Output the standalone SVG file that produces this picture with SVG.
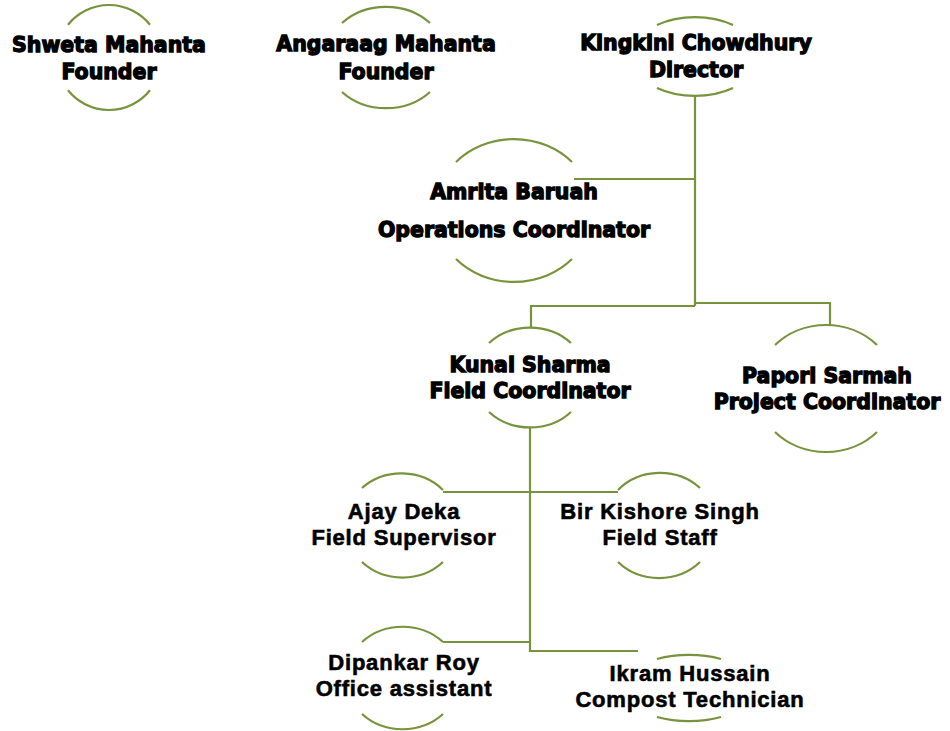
<svg xmlns="http://www.w3.org/2000/svg" width="950" height="731" viewBox="0 0 950 731">
<style>
.arc{fill:none;stroke:#77933C;stroke-width:2.2}
.con{fill:none;stroke:#77933C;stroke-width:2.2}
text{font-weight:bold;fill:#000;text-anchor:middle}
.h{font-family:"DejaVu Sans","Liberation Sans",sans-serif;font-size:20.5px;stroke:#000;stroke-width:1.3}
.n{font-family:"Liberation Sans",Arial,sans-serif;font-size:22px;letter-spacing:0.8px;stroke:#000;stroke-width:0.6}
</style>
<rect width="950" height="731" fill="#fff"/>
<g id="connectors">
<path class="con" d="M695,95 V306"/>
<path class="con" d="M574,179 H695"/>
<path class="con" d="M695,306 H531 V328"/>
<path class="con" d="M695,303 H830 V325"/>
<path class="con" d="M530,427 V651 H638"/>
<path class="con" d="M443,492 H618"/>
<path class="con" d="M443,642 H530"/>
</g>
<g id="shweta">
<path class="arc" d="M68,24.7 A52.5,52.5 0 0 1 150,24.7"/>
<path class="arc" d="M68,90.3 A52.5,52.5 0 0 0 150,90.3"/>
<text class="h" x="109" y="52">Shweta Mahanta</text>
<text class="h" x="109" y="79">Founder</text>
</g>
<g id="angaraag">
<path class="arc" d="M342,23 A60,50.5 0 0 1 430,23"/>
<path class="arc" d="M342,92 A60,50.5 0 0 0 430,92"/>
<text class="h" x="386" y="51">Angaraag Mahanta</text>
<text class="h" x="386" y="79">Founder</text>
</g>
<g id="kingkini">
<path class="arc" d="M657,25 A63,39 0 0 1 733,25"/>
<path class="arc" d="M657,88 A63,39 0 0 0 733,88"/>
<text class="h" x="696" y="50">Kingkini Chowdhury</text>
<text class="h" x="696" y="77">Director</text>
</g>
<g id="amrita">
<path class="arc" d="M456,162 A79,71.5 0 0 1 572,162"/>
<path class="arc" d="M456,259 A79,71.5 0 0 0 572,259"/>
<text class="h" x="514" y="199">Amrita Baruah</text>
<text class="h" x="514" y="237">Operations Coordinator</text>
</g>
<g id="kunal">
<path class="arc" d="M489,343 A56.5,49.5 0 0 1 571,343"/>
<path class="arc" d="M489,412 A56.5,49.5 0 0 0 571,412"/>
<text class="h" x="530" y="372">Kunal Sharma</text>
<text class="h" x="530" y="398">Field Coordinator</text>
</g>
<g id="papori">
<path class="arc" d="M775,345 A70,63.5 0 0 1 877,345"/>
<path class="arc" d="M775,432 A70,63.5 0 0 0 877,432"/>
<text class="h" x="827" y="383">Papori Sarmah</text>
<text class="h" x="827" y="409">Project Coordinator</text>
</g>
<g id="ajay">
<path class="arc" d="M362,488 A57,52.5 0 0 1 443,490"/>
<path class="arc" d="M362,562 A57,52.5 0 0 0 443,562"/>
<text class="n" x="404" y="519">Ajay Deka</text>
<text class="n" x="404" y="545">Field Supervisor</text>
</g>
<g id="bir">
<path class="arc" d="M618,490 A57,52.5 0 0 1 700,488"/>
<path class="arc" d="M618,562 A57,52.5 0 0 0 700,562"/>
<text class="n" x="660" y="519">Bir Kishore Singh</text>
<text class="n" x="660" y="545">Field Staff</text>
</g>
<g id="dipankar">
<path class="arc" d="M362,642 A57,51.5 0 0 1 443,642"/>
<path class="arc" d="M362,714 A57,51.5 0 0 0 443,714"/>
<text class="n" x="404" y="670">Dipankar Roy</text>
<text class="n" x="404" y="696">Office assistant</text>
</g>
<g id="ikram">
<path class="arc" d="M657,659 A66,33 0 0 1 721,659"/>
<path class="arc" d="M657,717 A66,33 0 0 0 721,717"/>
<text class="n" x="690" y="681">Ikram Hussain</text>
<text class="n" x="690" y="707">Compost Technician</text>
</g>
</svg>
